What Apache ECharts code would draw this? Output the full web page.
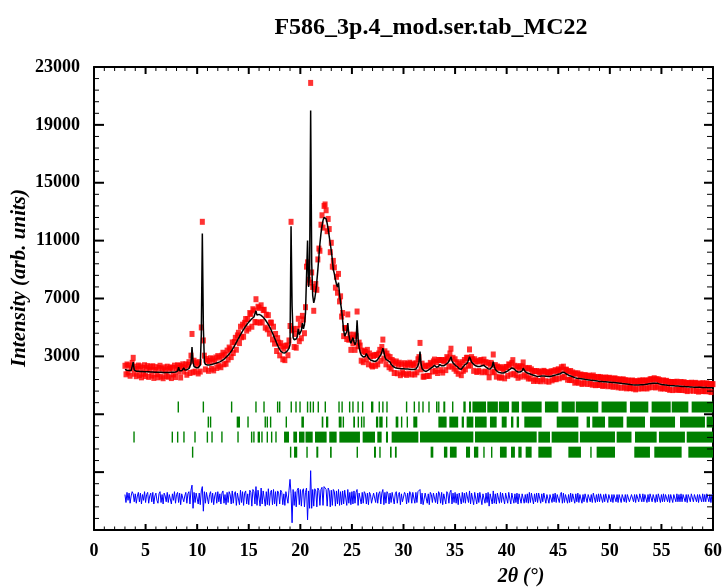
<!DOCTYPE html>
<html>
<head>
<meta charset="utf-8">
<script src="https://cdn.jsdelivr.net/npm/echarts@6/dist/echarts.min.js"></script>
<style>
  html, body { margin: 0; padding: 0; background: #fff; }
  #chart { width: 727px; height: 588px; }
</style>
</head>
<body>
<div id="chart"></div>
<script>
// scan: 2theta from 3.0 to 60.0, step 0.1 deg
const scanStart = 3.0
const scanStep = 0.1

// calculated profile, one row per degree (x.0 ... x.9)
const yCalc = [
  2100, 2060, 2040, 2030, 2020, 2010, 2020, 2100, 2600, 2050,
  1990, 1980, 1970, 1970, 1960, 1960, 1950, 1950, 1950, 1940,
  1940, 1940, 1930, 1930, 1930, 1920, 1920, 1920, 1910, 1910,
  1910, 1910, 1900, 1900, 1900, 1900, 1890, 1890, 1890, 1890,
  1890, 1890, 1890, 1890, 1890, 1900, 1900, 1900, 1910, 1920,
  1940, 1980, 2250, 2000, 1990, 2000, 2050, 2200, 2060, 2050,
  2080, 2100, 2150, 2250, 2500, 3650, 2600, 2300, 2250, 2220,
  2200, 2220, 2250, 2400, 4500, 11500, 5000, 2600, 2450, 2420,
  2400, 2400, 2410, 2420, 2440, 2460, 2480, 2500, 2520, 2550,
  2570, 2600, 2620, 2650, 2700, 2750, 2800, 2870, 2940, 3000,
  3080, 3160, 3250, 3350, 3460, 3580, 3700, 3830, 3960, 4100,
  4230, 4370, 4500, 4620, 4740, 4860, 4970, 5080, 5180, 5280,
  5370, 5450, 5530, 5600, 5660, 5720, 5780, 6150, 5850, 5880,
  5900, 5880, 5830, 5770, 5700, 5620, 5530, 5430, 5320, 5200,
  5070, 4930, 4780, 4620, 4450, 4280, 4100, 3920, 3760, 3600,
  3470, 3360, 3290, 3250, 3230, 3240, 3280, 3350, 3430, 3550,
  3800, 12000, 6500, 4300, 4150, 4100, 4200, 4350, 4900, 4500,
  4600, 4800, 5300, 4900, 5200, 6000, 8500, 11000, 7800, 8800,
  20000, 9500, 7200, 6700, 7000, 7500, 8200, 9000, 9900, 10800,
  11500, 12000, 12400, 12600, 12650, 12500, 12200, 11800, 11300, 10800,
  10300, 9700, 9000, 8700, 8300, 8000, 7800, 8100, 7300, 6700,
  6200, 5500, 4800, 4400, 4500, 4700, 5300, 4500, 4100, 3900,
  3800, 4300, 4000, 3800, 4000, 5500, 4200, 3600, 3300, 3100,
  3000, 2950, 2900, 3000, 3200, 3100, 2900, 2800, 2750, 2720,
  2700, 2680, 2650, 2650, 2700, 2800, 2900, 3000, 3100, 3300,
  3560, 3300, 2950, 2800, 2750, 2700, 2650, 2600, 2450, 2350,
  2300, 2250, 2220, 2200, 2180, 2170, 2160, 2150, 2150, 2140,
  2140, 2130, 2130, 2120, 2120, 2110, 2110, 2100, 2100, 2090,
  2090, 2100, 2120, 2200, 2350, 2600, 3330, 2500, 2150, 2050,
  2000, 1950, 1960, 2000, 2050, 2100, 2150, 2200, 2250, 2300,
  2380, 2300, 2250, 2250, 2300, 2450, 2400, 2350, 2330, 2350,
  2400, 2450, 2500, 2550, 2650, 2800, 2980, 2700, 2550, 2450,
  2400, 2350, 2300, 2250, 2150, 2060, 2100, 2200, 2300, 2400,
  2450, 2500, 2550, 2650, 2980, 2800, 2600, 2500, 2450, 2400,
  2350, 2320, 2300, 2290, 2300, 2400, 2350, 2300, 2380, 2300,
  2250, 2200, 2150, 2100, 2120, 2200, 2300, 2630, 2300, 2100,
  2000, 1950, 1900, 1880, 1860, 1850, 1830, 1850, 1880, 1920,
  1960, 2000, 2050, 2100, 2150, 2200, 2290, 2150, 2050, 2000,
  1950, 1920, 1900, 1920, 1950, 2000, 2180, 2050, 1950, 1900,
  1850, 1820, 1800, 1780, 1750, 1720, 1700, 1680, 1650, 1630,
  1600, 1610, 1620, 1630, 1640, 1650, 1650, 1640, 1630, 1620,
  1610, 1600, 1610, 1620, 1640, 1660, 1680, 1700, 1720, 1740,
  1760, 1780, 1800, 1850, 1900, 1940, 1880, 1820, 1780, 1740,
  1700, 1670, 1640, 1610, 1590, 1560, 1530, 1510, 1490, 1480,
  1470, 1460, 1450, 1440, 1430, 1420, 1410, 1400, 1390, 1380,
  1370, 1360, 1350, 1340, 1330, 1320, 1310, 1300, 1290, 1280,
  1270, 1265, 1260, 1255, 1250, 1250, 1245, 1240, 1235, 1230,
  1220, 1210, 1200, 1195, 1190, 1185, 1180, 1170, 1160, 1150,
  1140, 1130, 1120, 1115, 1110, 1100, 1090, 1080, 1070, 1060,
  1050, 1040, 1035, 1030, 1025, 1020, 1020, 1020, 1025, 1030,
  1035, 1040, 1045, 1050, 1060, 1070, 1080, 1090, 1100, 1110,
  1120, 1130, 1135, 1140, 1150, 1170, 1150, 1120, 1100, 1080,
  1060, 1050, 1040, 1030, 1020, 1010, 1000, 990, 985, 980,
  975, 970, 965, 960, 955, 950, 945, 940, 935, 930,
  925, 920, 915, 910, 905, 900, 895, 890, 885, 880,
  878, 875, 872, 870, 868, 865, 862, 860, 858, 855,
  852, 850, 848, 845, 842, 840, 838, 836, 834, 832,
  830
]

// obs - calc
const yDiff = [
  250, -300, 400, -150, 350, -350, 150, 450, 300, -250,
  300, -350, 150, 400, -250, 350, -400, 250, -150, 450,
  -300, 250, 400, -350, 150, 350, -250, 400, -400, 150,
  350, -150, -350, 300, 450, -300, 250, -400, 350, 150,
  -250, 400, -300, 250, 350, -400, 300, -150, 450, -350,
  250, 400, -300, 350, -450, 300, 400, -250, 150, 400,
  -350, 300, 450, -400, 550, 900, -700, 400, -300, 350,
  250, -400, 350, -450, 500, 800, -900, 450, -350, 400,
  300, -400, 250, 450, -300, 350, -450, 150, 400, -350,
  450, -250, 300, -400, 350, 500, -350, 250, -450, 400,
  -300, 450, 250, -400, 500, -350, 300, 450, -500, 350,
  400, -450, 550, -300, 450, -500, 350, 500, -400, 300,
  -450, 550, 400, -550, 600, 450, -400, 800, -500, 550,
  450, -550, 700, -400, 500, 600, -550, 450, -450, 650,
  -500, 400, 550, -450, 600, -400, 450, -550, 500, 350,
  -400, 550, 400, -450, 300, -500, 450, 400, -350, 550,
  1300, 300, -1700, 600, -500, 450, -600, 550, 700, -450,
  600, -550, 500, 650, -600, 400, 700, -1500, 500, -700,
  1900, -700, 600, -550, 650, 500, -600, 700, 550, -500,
  600, 750, -500, 800, 850, 600, -550, 700, 500, -600,
  550, -500, 600, 450, -550, 500, -400, 600, -500, 450,
  -450, 500, -400, 550, 450, -500, 600, -350, 400, -450,
  450, -400, 500, -350, 400, 600, -500, 350, 450, -400,
  400, -350, 450, 300, -400, 350, -450, 400, 250, -350,
  -400, 350, 450, -300, 400, -350, 300, 450, -400, 350,
  600, -450, 400, -350, 450, 300, -400, 350, -300, 400,
  350, -400, 300, 450, -350, 250, 400, -450, 300, -250,
  -350, 400, 250, -400, 350, -300, 450, 300, -350, 400,
  300, -350, 400, -300, 450, 350, 600, -400, 350, -450,
  -400, 350, 400, -350, 300, -450, 400, 250, -300, 350,
  400, -300, 350, -400, 450, 300, -350, 400, -450, 300,
  350, -400, 450, 300, -350, 400, 550, -400, 350, -300,
  400, -350, 300, -450, 350, 250, -400, 400, -300, 350,
  -350, 400, 350, -300, 500, -400, 350, 300, -450, 400,
  300, -400, 350, -300, 400, 350, -450, 300, 400, -350,
  350, -300, 400, -550, 300, 350, -400, 500, -350, 300,
  -400, 350, 300, -350, 400, -300, 350, 250, -400, 350,
  300, -350, 400, 300, -400, 350, 450, -350, 300, -300,
  350, -400, 300, 400, -350, 300, 400, -350, 250, -300,
  300, -350, 400, -300, 350, 250, -400, 300, -250, 350,
  -300, 350, 250, -350, 300, -250, 350, 300, -350, 250,
  300, -350, 250, 350, -300, 300, -250, 350, -300, 250,
  350, -300, 250, 400, -350, 350, -300, 250, 300, -350,
  250, -300, 350, -250, 300, 250, -350, 300, -250, 350,
  -300, 250, 300, -350, 250, -250, 300, 250, -300, 250,
  300, -250, 250, -300, 350, 250, -300, 250, -250, 300,
  -250, 300, 250, -300, 250, -250, 300, 250, -300, 250,
  300, -250, 250, -300, 250, 300, -250, 250, -300, 250,
  250, -300, 250, 300, -250, 250, -300, 250, 250, -250,
  -250, 250, 300, -250, 250, -300, 250, 250, -250, 300,
  250, -250, 300, -250, 250, 250, -300, 250, -250, 300,
  300, -250, 250, 350, -300, 250, -250, 300, 250, -300,
  250, -250, 300, -250, 250, 300, -250, 250, -300, 250,
  250, -300, 250, 250, -250, 300, -250, 250, -250, 300,
  -250, 250, 300, -250, 250, -300, 250, 250, -250, 300,
  250, -250, 250, 300, -250, 250, -300, 250, 250, -250,
  300, -250, 250, -250, 300, 250, -250, 250, -300, 250,
  250
]

// Bragg reflection positions (2theta), single lines or [from, to] groups
const phase1 = [
  8.17, 10.6, 13.34, 15.7, 16.48, 17.8, 18.0, 19.12, 19.58, 19.97,
  20.7, 20.98, 21.26, 21.74, 22.42, [23.75, 23.85], [24.05, 24.17], 24.78, 25.1,
  25.6, 26.04, [26.85, 27.08], 27.65, 28.0, 28.4, 30.3, 31.05, 31.5, 31.89,
  32.47, [33.15, 33.3], [33.42, 33.54], [33.86, 34.05], 34.77, [35.8, 36.03],
  [36.35, 36.55], [36.68, 38.0], [38.12, 39.15], [39.25, 40.23], [40.48, 41.2],
  [41.45, 43.39], [43.71, 45.01], [45.33, 46.6], [46.7, 48.88], [49.2, 51.63],
  [51.95, 53.73], [54.05, 55.9], [56.0, 57.61], [57.93, 60.0]
]
const phase2 = [
  11.08, 11.3, [13.83, 14.15], 14.93, 16.6, 16.8, 17.12, 18.64, [20.1, 20.35],
  [22.07, 22.23], [22.49, 22.71], [23.72, 24.0], 24.17, [25.13, 25.3], 25.62,
  25.94, 26.17, [27.33, 27.55], [27.65, 27.98], 28.37, [29.24, 29.5], 29.82,
  30.37, [30.95, 31.34], [33.38, 34.18], [34.44, 35.3], [35.64, 35.86],
  [36.12, 36.77], [36.93, 38.06], [38.38, 39.03], [39.52, 40.0], [40.42, 40.65],
  [40.97, 41.2], [41.71, 43.39], [44.85, 46.95], [47.75, 48.08], [48.3, 49.53],
  [49.85, 51.3], [51.63, 53.41], [53.89, 56.32], [56.8, 59.22], [59.38, 60.0]
]
const phase3 = [
  3.88, 7.59, 8.11, 8.72, 9.79, 10.99, 11.44, 12.4, 13.96, 15.28, 15.5,
  [15.86, 16.09], 16.28, 16.8, 17.22, 17.64, [18.42, 18.9], [19.32, 19.68],
  [19.87, 20.4], [20.5, 21.2], [21.42, 22.55], [22.8, 23.52], [23.78, 25.78],
  [26.04, 27.24], [27.46, 27.88], [28.3, 28.5], [28.85, 31.44], [31.6, 36.77],
  [36.93, 42.91], [43.07, 44.2], [44.36, 46.95], [47.1, 50.5], [50.66, 52.1],
  [52.44, 54.54], [54.76, 57.28], [57.45, 60.0]
]
const phase4 = [
  9.56, 19.06, [19.39, 19.7], 20.65, [21.55, 21.74], [22.88, 23.04],
  [25.52, 25.65], [27.14, 27.33], 27.72, [28.69, 28.85], [29.17, 29.34],
  [32.63, 32.89], [33.92, 34.25], [34.5, 35.15], [36.06, 36.45], [36.83, 37.25],
  37.8, 38.55, [39.35, 40.0], [40.42, 40.8], [41.13, 41.45], [41.84, 42.42],
  [43.07, 44.36], [45.98, 47.2], [48.17, 48.3], [48.72, 50.5], [52.37, 53.89],
  [54.31, 56.96], [57.61, 60.0]
]

// axis ranges
const xMin = 0, xMax = 60, xMajor = 5, xMinorStep = 1
const yMin = -9000, yMax = 23000, yMajor = 4000, yMinorStep = 800

// layout of the lower panel (intensity units)
const diffLevel = -6800
const braggLevels = [-500, -1540, -2580, -3620]
const braggHalf = 380

const tth = yCalc.map((v, i) => Math.round((scanStart + scanStep * i) * 100) / 100)
const obsData = yCalc.map((v, i) => [tth[i], v + yDiff[i]])
const calcData = yCalc.map((v, i) => [tth[i], v])
const diffData = yDiff.map((v, i) => [tth[i], v + diffLevel])

const braggData = []
;[phase1, phase2, phase3, phase4].forEach((list, row) => {
  list.forEach(r => {
    const a = Array.isArray(r) ? r[0] : r
    const b = Array.isArray(r) ? r[1] : r
    braggData.push([a, b, row])
  })
})

// frame ticks: [value, 0 = 2theta axis / 1 = intensity axis, 1 = major]
const frameTicks = []
for (let v = xMin; v <= xMax; v += xMinorStep) {
  frameTicks.push([v, 0, v % xMajor === 0 ? 1 : 0])
}
for (let v = yMin; v <= yMax; v += yMinorStep) {
  frameTicks.push([v, 1, (v - yMin) % yMajor === 0 ? 1 : 0])
}

const serif = 'Liberation Serif, Times New Roman, serif'
const frameLine = { show: true, onZero: false, lineStyle: { color: '#000', width: 2 } }

const tickLine = (x1, y1, x2, y2, major) => ({
  type: 'line',
  shape: { x1: x1, y1: y1, x2: x2, y2: y2 },
  style: { stroke: '#000', lineWidth: major ? 2 : 1 }
})

const chart = echarts.init(document.getElementById('chart'))
chart.setOption({
  animation: false,
  backgroundColor: '#fff',
  title: {
    text: 'F586_3p.4_mod.ser.tab_MC22',
    left: 426,
    top: 11,
    textAlign: 'center',
    textStyle: { fontFamily: serif, fontWeight: 'bold', fontSize: 24, color: '#000' }
  },
  grid: { left: 94, right: 14, top: 67, bottom: 58 },
  xAxis: [
    {
      type: 'value',
      min: xMin,
      max: xMax,
      interval: xMajor,
      axisLine: frameLine,
      axisTick: { show: false },
      axisLabel: {
        margin: 12,
        fontFamily: serif,
        fontWeight: 'bold',
        fontSize: 18,
        color: '#000'
      },
      splitLine: { show: false }
    },
    {
      type: 'value',
      position: 'top',
      min: xMin,
      max: xMax,
      interval: xMajor,
      axisLine: frameLine,
      axisTick: { show: false },
      axisLabel: { show: false },
      splitLine: { show: false }
    }
  ],
  yAxis: [
    {
      type: 'value',
      min: yMin,
      max: yMax,
      interval: yMajor,
      axisLine: frameLine,
      axisTick: { show: false },
      axisLabel: {
        margin: 14,
        fontFamily: serif,
        fontWeight: 'bold',
        fontSize: 18,
        color: '#000',
        formatter: v => (v >= 3000 ? String(v) : '')
      },
      splitLine: { show: false }
    },
    {
      type: 'value',
      position: 'right',
      min: yMin,
      max: yMax,
      interval: yMajor,
      axisLine: frameLine,
      axisTick: { show: false },
      axisLabel: { show: false },
      splitLine: { show: false }
    }
  ],
  graphic: [
    {
      type: 'text',
      x: 20,
      y: 278,
      rotation: Math.PI / 2,
      style: {
        text: 'Intensity (arb. units)',
        font: 'italic bold 21px ' + serif,
        align: 'center',
        verticalAlign: 'middle',
        fill: '#000'
      }
    },
    {
      type: 'text',
      x: 521,
      y: 577,
      style: {
        text: '2θ (°)',
        font: 'italic bold 20px ' + serif,
        align: 'center',
        verticalAlign: 'middle',
        fill: '#000'
      }
    }
  ],
  series: [
    {
      name: 'Yobs',
      type: 'scatter',
      data: obsData,
      symbol: 'rect',
      symbolSize: [5, 6],
      itemStyle: { color: '#ff0000' },
      z: 2
    },
    {
      name: 'Ycalc',
      type: 'line',
      data: calcData,
      showSymbol: false,
      lineStyle: { color: '#000', width: 1.5 },
      z: 3
    },
    {
      name: 'Bragg',
      type: 'custom',
      data: braggData,
      encode: { x: [0, 1] },
      renderItem: (params, api) => {
        const row = api.value(2)
        const p0 = api.coord([api.value(0), braggLevels[row] + braggHalf])
        const p1 = api.coord([api.value(1), braggLevels[row] - braggHalf])
        let w = p1[0] - p0[0]
        let x = p0[0]
        if (w < 1.4) {
          x = x - 0.7
          w = 1.4
        }
        return {
          type: 'rect',
          shape: { x: x, y: p0[1], width: w, height: p1[1] - p0[1] },
          style: { fill: '#008000' }
        }
      },
      z: 2
    },
    {
      name: 'Yobs-Ycalc',
      type: 'line',
      data: diffData,
      showSymbol: false,
      lineStyle: { color: '#0000ff', width: 1 },
      z: 2
    },
    {
      // inside ticks on all four sides of the frame
      name: 'frame ticks',
      type: 'custom',
      data: frameTicks,
      silent: true,
      clip: false,
      encode: { x: 0 },
      renderItem: (params, api) => {
        const v = api.value(0)
        const onY = api.value(1) === 1
        const major = api.value(2) === 1
        if (!onY) {
          const b = api.coord([v, yMin])
          const t = api.coord([v, yMax])
          const lb = major ? 6 : 3.5
          const lt = major ? 7 : 4
          return {
            type: 'group',
            children: [
              tickLine(b[0], b[1], b[0], b[1] - lb, major),
              tickLine(t[0], t[1], t[0], t[1] + lt, major)
            ]
          }
        }
        const l = api.coord([xMin, v])
        const r = api.coord([xMax, v])
        const ll = major ? 10 : 5
        const lr = major ? 9 : 6
        return {
          type: 'group',
          children: [
            tickLine(l[0], l[1], l[0] + ll, l[1], major),
            tickLine(r[0], r[1], r[0] - lr, r[1], major)
          ]
        }
      },
      z: 4
    }
  ]
})
</script>
</body>
</html>
